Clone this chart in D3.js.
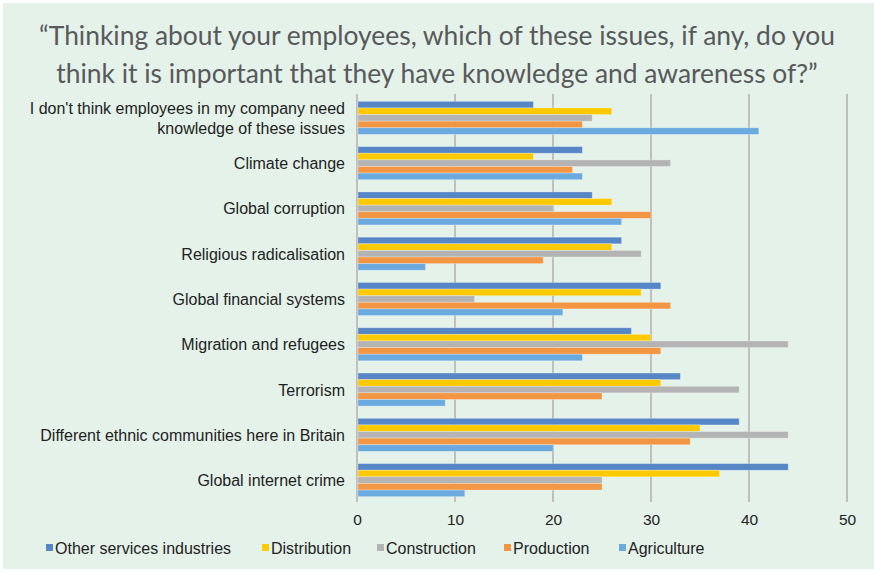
<!DOCTYPE html>
<html>
<head>
<meta charset="utf-8">
<script src="https://cdn.jsdelivr.net/npm/d3@7"></script>
<style>
  html, body { margin: 0; padding: 0; background: #ffffff; }
  svg { display: block; }
</style>
</head>
<body>
<svg id="chart" width="874" height="572"></svg>
<script>
// Survey issues, listed top to bottom
const categories = [
  "I don't think employees in my company need|knowledge of these issues",
  "Climate change",
  "Global corruption",
  "Religious radicalisation",
  "Global financial systems",
  "Migration and refugees",
  "Terrorism",
  "Different ethnic communities here in Britain",
  "Global internet crime"
];

const seriesNames = ["Other services industries", "Distribution", "Construction", "Production", "Agriculture"];
const seriesColors = ["#5686c6", "#fdc900", "#b4b4b4", "#f39643", "#6aaadf"];

// Percentages per sector, in category order
const otherServices = [18, 23, 24, 27, 31, 28, 33, 39, 44];
const distribution  = [26, 18, 26, 26, 29, 30, 31, 35, 37];
const construction  = [24, 32, 20, 29, 12, 44, 39, 44, 25];
const production    = [23, 22, 30, 19, 32, 31, 25, 34, 25];
const agriculture   = [41, 23, 27,  7, 21, 23,  9, 20, 11];

const tickValues = [0, 10, 20, 30, 40, 50];

const titleLines = [
  "\u201cThinking about your employees, which of these issues, if any, do you",
  "think it is important that they have knowledge and awareness of?\u201d"
];

const seriesValues = [otherServices, distribution, construction, production, agriculture];

const svg = d3.select("#chart");
const labelFont = "'Liberation Sans', Arial, sans-serif";

// panel background
svg.append("rect")
  .attr("x", 3).attr("y", 3)
  .attr("width", 871).attr("height", 566)
  .attr("fill", "#e5f2ea");

// title: size the first line to its target width, reuse that size for the second
const title = svg.append("g");
const baseSize = 28;
const probe = title.append("text")
  .attr("font-family", "Lato, 'Open Sans', sans-serif")
  .attr("font-size", baseSize)
  .text(titleLines[0]);
const natural = probe.node().getComputedTextLength();
probe.remove();
const titleSize = Math.min(30, baseSize * 796 / natural);
const titleBase = [45, 83];
titleLines.forEach((t, i) => {
  title.append("text")
    .attr("x", 437).attr("y", titleBase[i])
    .attr("text-anchor", "middle")
    .attr("font-family", "Lato, 'Open Sans', sans-serif")
    .attr("font-size", titleSize)
    .attr("fill", "#58595b")
    .text(t);
});

const plot = { left: 357, right: 847, top: 94, bottom: 502 };

const x = d3.scaleLinear().domain([0, 50]).range([plot.left, plot.right]);
const y = d3.scaleBand().domain(d3.range(categories.length))
  .range([plot.top + 1, plot.bottom + 1]).paddingInner(0.27).paddingOuter(0.14);
const ySub = d3.scaleBand().domain(d3.range(seriesNames.length))
  .range([0, y.bandwidth()]).padding(0);

// vertical gridlines
const g = svg.append("g");
g.selectAll("line.grid")
  .data(tickValues)
  .join("line")
  .attr("class", "grid")
  .attr("x1", d => x(d)).attr("x2", d => x(d))
  .attr("y1", plot.top).attr("y2", plot.bottom)
  .attr("stroke", "#bfbfbf")
  .attr("stroke-width", 2);

// bars
const rows = [];
categories.forEach((c, ci) => {
  seriesValues.forEach((vals, si) => {
    rows.push({ ci, si, v: vals[ci] });
  });
});

g.selectAll("rect.bar")
  .data(rows)
  .join("rect")
  .attr("class", "bar")
  .attr("x", x(0) + 1)
  .attr("y", d => y(d.ci) + ySub(d.si))
  .attr("width", d => x(d.v) - x(0) - 1)
  .attr("height", ySub.bandwidth())
  .attr("fill", d => seriesColors[d.si])
  .attr("stroke", "rgba(255,255,255,0.35)")
  .attr("stroke-width", 0.8);

// x axis labels
const xAxis = d3.axisBottom(x).tickValues(tickValues).tickSize(0).tickPadding(0);
const ax = svg.append("g")
  .attr("transform", `translate(0, ${plot.bottom + 12})`)
  .call(xAxis);
ax.select(".domain").remove();
ax.selectAll("text")
  .attr("font-family", labelFont)
  .attr("font-size", 15.5)
  .attr("fill", "#222");

// category labels
const labels = svg.append("g");
categories.forEach((c, ci) => {
  const parts = c.split("|");
  const cy = y(ci) + y.bandwidth() / 2;
  const lineH = 20;
  const t = labels.append("text")
    .attr("text-anchor", "end")
    .attr("font-family", labelFont)
    .attr("font-size", 16)
    .attr("fill", "#222");
  parts.forEach((p, pi) => {
    t.append("tspan")
      .attr("x", 345)
      .attr("y", cy + 6 + (pi - (parts.length - 1) / 2) * lineH)
      .text(p);
  });
});

// legend
const legendX = [46, 262, 377, 504, 619];
const lg = svg.append("g");
seriesNames.forEach((n, i) => {
  lg.append("rect")
    .attr("x", legendX[i]).attr("y", 544)
    .attr("width", 7).attr("height", 7)
    .attr("fill", seriesColors[i]);
  lg.append("text")
    .attr("x", legendX[i] + 9).attr("y", 553.5)
    .attr("font-family", labelFont)
    .attr("font-size", 16)
    .attr("fill", "#222")
    .text(n);
});
</script>
</body>
</html>
